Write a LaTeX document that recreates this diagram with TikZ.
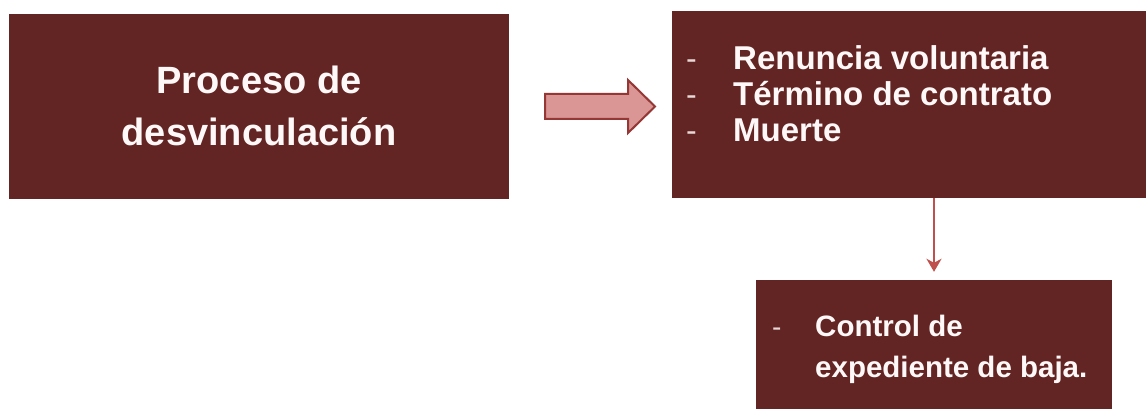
\documentclass[tikz,border=0pt]{standalone}
\usepackage{fontspec}
\setmainfont{Liberation Sans}
\usetikzlibrary{arrows.meta}
\definecolor{maroon}{HTML}{632523}
\definecolor{arrowfill}{HTML}{D99694}
\definecolor{arrowline}{HTML}{953735}
\definecolor{downline}{HTML}{C0504D}
\definecolor{txt}{HTML}{FFF8F8}
\tikzset{
  box/.style={fill=maroon, draw=none, inner sep=0pt, rectangle},
  bigtxt/.style={text=txt, font=\bfseries\fontsize{38}{52}\selectfont, align=center, inner sep=0pt},
  midtxt/.style={text=txt, font=\bfseries\fontsize{33}{37}\selectfont, anchor=base west, inner sep=0pt},
  smalltxt/.style={text=txt, font=\bfseries\fontsize{29.5}{41}\selectfont, anchor=base west, inner sep=0pt},
  dashmark/.style={text=txt!85!maroon, anchor=base west, inner sep=0pt},
  blockarrow/.style={draw=arrowline, fill=arrowfill, line width=2pt, line join=miter},
  downarr/.style={draw=downline, line width=2.6pt, -{Stealth[length=13pt,width=15pt,inset=4pt]}}
}
\begin{document}
\begin{tikzpicture}[x=1pt,y=-1pt]
\useasboundingbox (0,0) rectangle (1146,409);
\fill[white] (0,0) rectangle (1146,409);
\begin{scope}
\clip (0,0) rectangle (1146,409);
\node[box, minimum width=500pt, minimum height=185pt] (b1) at (259,106.5) {};
\node[box, minimum width=480pt, minimum height=187pt] (b2) at (912,104.5) {};
\node[box, minimum width=356pt, minimum height=135pt] (b3) at (934,347.5) {};
\end{scope}
\node[bigtxt] (t1) at (259,106) {Proceso de\\desvinculación};
\node[dashmark, font=\fontsize{32}{37}\selectfont] (d1) at (686,70) {-};
\node[dashmark, font=\fontsize{32}{37}\selectfont] (d2) at (686,106) {-};
\node[dashmark, font=\fontsize{32}{37}\selectfont] (d3) at (686,142) {-};
\node[midtxt] (r1) at (733,70) {Renuncia voluntaria};
\node[midtxt] (r2) at (733,106) {Término de contrato};
\node[midtxt] (r3) at (733,142) {Muerte};
\node[dashmark, font=\fontsize{28}{41}\selectfont] (d4) at (772,336) {-};
\node[smalltxt] (c1) at (815,336) {Control de};
\node[smalltxt] (c2) at (815,377) {expediente de baja.};
\coordinate (ba) at (545,106.5);
\draw[blockarrow] (ba) ++(0,-12.5) -- ++(83,0) -- ++(0,-14) -- ++(27,26.5)
  -- ++(-27,26.5) -- ++(0,-14) -- ++(-83,0) -- cycle;
\draw[downarr] (b3.north |- b2.south) -- ([yshift=8pt]b3.north);
\end{tikzpicture}
\end{document}
